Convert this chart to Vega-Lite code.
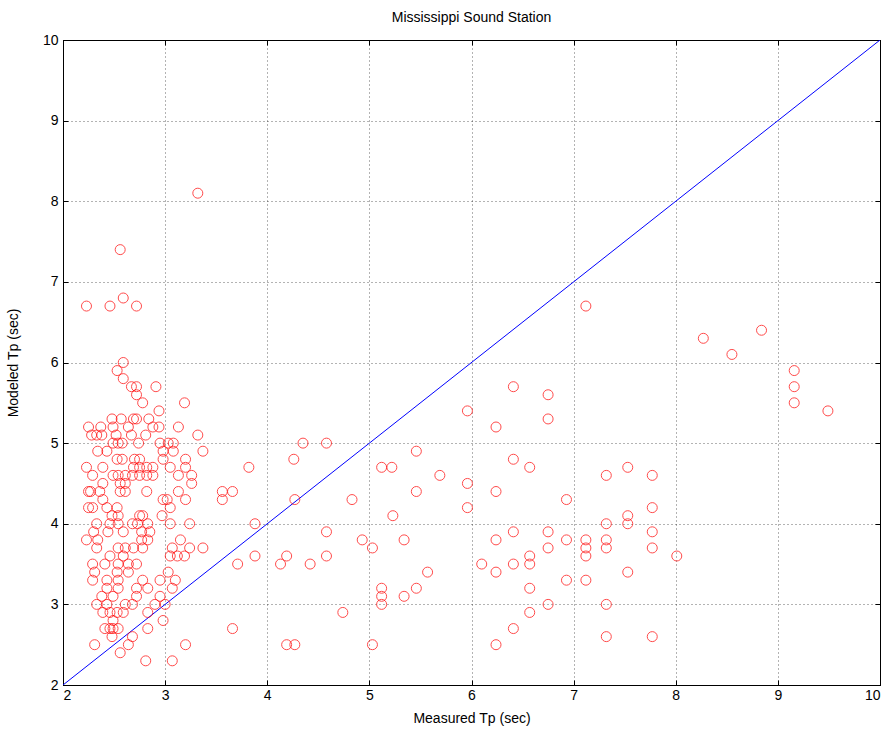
{
  "$schema": "https://vega.github.io/schema/vega-lite/v6.json",
  "width": 817,
  "height": 645,
  "autosize": {"type": "none"},
  "padding": {"left": 63, "top": 40, "right": 16, "bottom": 55},
  "background": "white",
  "title": {"text": "Mississippi Sound Station", "font": "Liberation Sans", "fontSize": 14, "fontWeight": "normal", "color": "black", "offset": 8},
  "config": {
    "view": {"stroke": "black", "strokeWidth": 1},
    "axis": {"domainColor": "black", "tickColor": "black", "labelColor": "black", "titleColor": "black", "labelFont": "Liberation Sans", "titleFont": "Liberation Sans", "labelFontSize": 14, "titleFontSize": 14, "titleFontWeight": "normal", "gridColor": "black", "gridDash": [1, 3], "gridOpacity": 0.6, "tickSize": -5}
  },
  "resolve": {"axis": {"x": "independent", "y": "independent"}},
  "layer": [
    {
      "data": {"values": [{"a": 2, "b": 2}, {"a": 10, "b": 10}]},
      "mark": {"type": "line", "color": "#0000ff", "strokeWidth": 1, "clip": true},
      "encoding": {
        "x": {"field": "a", "type": "quantitative", "scale": {"domain": [2, 10], "nice": false}, "axis": {"orient": "top", "labels": false, "title": null, "grid": false, "values": [2,3,4,5,6,7,8,9,10]}},
        "y": {"field": "b", "type": "quantitative", "scale": {"domain": [2, 10], "nice": false}, "axis": {"orient": "right", "labels": false, "title": null, "grid": false, "values": [2,3,4,5,6,7,8,9,10]}}
      }
    },
    {
      "data": {"values": [
{"m":3.32,"p":8.1},{"m":2.56,"p":7.4},{"m":2.23,"p":6.7},{"m":2.46,"p":6.7},{"m":2.59,"p":6.8},{"m":2.72,"p":6.7},
{"m":2.59,"p":6.0},{"m":2.53,"p":5.9},{"m":2.59,"p":5.8},{"m":2.67,"p":5.7},{"m":2.72,"p":5.7},{"m":2.91,"p":5.7},{"m":2.72,"p":5.6},{"m":2.78,"p":5.5},{"m":3.19,"p":5.5},{"m":2.94,"p":5.4},
{"m":2.48,"p":5.3},{"m":2.57,"p":5.3},{"m":2.69,"p":5.3},{"m":2.72,"p":5.3},{"m":2.84,"p":5.3},
{"m":3.13,"p":5.2},{"m":2.25,"p":5.2},{"m":2.37,"p":5.2},{"m":2.49,"p":5.2},{"m":2.64,"p":5.2},{"m":2.88,"p":5.2},{"m":2.94,"p":5.2},
{"m":2.28,"p":5.1},{"m":2.33,"p":5.1},{"m":2.38,"p":5.1},{"m":2.52,"p":5.1},{"m":2.67,"p":5.1},{"m":2.81,"p":5.1},{"m":3.32,"p":5.1},
{"m":2.49,"p":5.0},{"m":2.58,"p":5.0},{"m":2.74,"p":5.0},{"m":2.95,"p":5.0},{"m":3.03,"p":5.0},{"m":3.08,"p":5.0},{"m":2.54,"p":5.0},
{"m":2.34,"p":4.9},{"m":2.43,"p":4.9},{"m":2.98,"p":4.9},{"m":3.08,"p":4.9},{"m":3.37,"p":4.9},
{"m":2.53,"p":4.8},{"m":2.58,"p":4.8},{"m":2.7,"p":4.8},{"m":2.75,"p":4.8},{"m":2.98,"p":4.8},{"m":3.2,"p":4.8},
{"m":2.23,"p":4.7},{"m":2.39,"p":4.7},{"m":2.69,"p":4.7},{"m":2.75,"p":4.7},{"m":2.82,"p":4.7},{"m":2.88,"p":4.7},{"m":3.2,"p":4.7},{"m":3.05,"p":4.7},
{"m":2.29,"p":4.6},{"m":2.49,"p":4.6},{"m":2.54,"p":4.6},{"m":2.61,"p":4.6},{"m":2.68,"p":4.6},{"m":2.75,"p":4.6},{"m":2.82,"p":4.6},{"m":2.88,"p":4.6},{"m":3.13,"p":4.6},{"m":3.26,"p":4.6},
{"m":2.39,"p":4.5},{"m":2.56,"p":4.5},{"m":2.61,"p":4.5},{"m":3.26,"p":4.5},
{"m":2.25,"p":4.4},{"m":2.27,"p":4.4},{"m":2.36,"p":4.4},{"m":2.56,"p":4.4},{"m":2.61,"p":4.4},{"m":2.82,"p":4.4},{"m":3.13,"p":4.4},
{"m":2.39,"p":4.3},{"m":2.98,"p":4.3},{"m":3.2,"p":4.3},{"m":3.02,"p":4.3},
{"m":2.25,"p":4.2},{"m":2.29,"p":4.2},{"m":2.43,"p":4.2},{"m":2.53,"p":4.2},{"m":3.05,"p":4.2},
{"m":2.48,"p":4.1},{"m":2.54,"p":4.1},{"m":2.75,"p":4.1},{"m":2.97,"p":4.1},{"m":2.78,"p":4.1},
{"m":2.33,"p":4.0},{"m":2.46,"p":4.0},{"m":2.54,"p":4.0},{"m":2.68,"p":4.0},{"m":2.73,"p":4.0},{"m":2.83,"p":4.0},{"m":3.05,"p":4.0},{"m":3.24,"p":4.0},
{"m":2.44,"p":3.9},{"m":2.59,"p":3.9},{"m":2.77,"p":3.9},{"m":2.85,"p":3.9},{"m":2.3,"p":3.9},
{"m":2.23,"p":3.8},{"m":2.34,"p":3.8},{"m":2.77,"p":3.8},{"m":2.83,"p":3.8},{"m":3.15,"p":3.8},
{"m":2.33,"p":3.7},{"m":2.54,"p":3.7},{"m":2.61,"p":3.7},{"m":2.69,"p":3.7},{"m":2.78,"p":3.7},{"m":3.07,"p":3.7},{"m":3.24,"p":3.7},{"m":3.37,"p":3.7},
{"m":2.46,"p":3.6},{"m":2.59,"p":3.6},{"m":3.05,"p":3.6},{"m":3.12,"p":3.6},{"m":3.19,"p":3.6},
{"m":2.29,"p":3.5},{"m":2.41,"p":3.5},{"m":2.54,"p":3.5},{"m":2.64,"p":3.5},{"m":2.72,"p":3.5},
{"m":2.31,"p":3.4},{"m":2.53,"p":3.4},{"m":2.64,"p":3.4},{"m":3.03,"p":3.4},
{"m":2.29,"p":3.3},{"m":2.43,"p":3.3},{"m":2.54,"p":3.3},{"m":2.78,"p":3.3},{"m":2.95,"p":3.3},{"m":3.1,"p":3.3},
{"m":2.43,"p":3.2},{"m":2.54,"p":3.2},{"m":2.72,"p":3.2},{"m":2.83,"p":3.2},{"m":3.07,"p":3.2},
{"m":2.38,"p":3.1},{"m":2.49,"p":3.1},{"m":2.72,"p":3.1},{"m":2.95,"p":3.1},
{"m":2.33,"p":3.0},{"m":2.43,"p":3.0},{"m":2.61,"p":3.0},{"m":2.68,"p":3.0},{"m":2.9,"p":3.0},{"m":3.0,"p":3.0},
{"m":2.39,"p":2.9},{"m":2.46,"p":2.9},{"m":2.53,"p":2.9},{"m":2.59,"p":2.9},{"m":2.83,"p":2.9},
{"m":2.98,"p":2.8},{"m":2.49,"p":2.8},
{"m":2.41,"p":2.7},{"m":2.46,"p":2.7},{"m":2.49,"p":2.7},{"m":2.54,"p":2.7},{"m":2.83,"p":2.7},
{"m":2.48,"p":2.6},{"m":2.68,"p":2.6},
{"m":2.31,"p":2.5},{"m":2.64,"p":2.5},{"m":3.2,"p":2.5},
{"m":2.56,"p":2.4},{"m":2.81,"p":2.3},{"m":3.07,"p":2.3},
{"m":3.56,"p":4.4},{"m":3.56,"p":4.3},{"m":3.66,"p":4.4},{"m":3.66,"p":2.7},{"m":3.71,"p":3.5},{"m":3.82,"p":4.7},{"m":3.88,"p":4.0},{"m":3.88,"p":3.6},
{"m":4.13,"p":3.5},{"m":4.19,"p":3.6},{"m":4.19,"p":2.5},{"m":4.27,"p":2.5},{"m":4.26,"p":4.8},{"m":4.27,"p":4.3},{"m":4.35,"p":5.0},{"m":4.42,"p":3.5},
{"m":4.58,"p":5.0},{"m":4.58,"p":3.9},{"m":4.58,"p":3.6},{"m":4.74,"p":2.9},{"m":4.83,"p":4.3},{"m":4.93,"p":3.8},{"m":5.03,"p":3.7},{"m":5.03,"p":2.5},
{"m":5.12,"p":4.7},{"m":5.12,"p":3.2},{"m":5.12,"p":3.1},{"m":5.12,"p":3.0},{"m":5.22,"p":4.7},{"m":5.23,"p":4.1},{"m":5.34,"p":3.8},{"m":5.34,"p":3.1},
{"m":5.46,"p":4.9},{"m":5.46,"p":4.4},{"m":5.46,"p":3.2},{"m":5.57,"p":3.4},{"m":5.69,"p":4.6},
{"m":5.96,"p":5.4},{"m":5.96,"p":4.5},{"m":5.96,"p":4.2},{"m":6.1,"p":3.5},
{"m":6.24,"p":5.2},{"m":6.24,"p":4.4},{"m":6.24,"p":3.8},{"m":6.24,"p":3.4},{"m":6.24,"p":2.5},
{"m":6.41,"p":5.7},{"m":6.41,"p":4.8},{"m":6.41,"p":3.9},{"m":6.41,"p":3.5},{"m":6.41,"p":2.7},
{"m":6.57,"p":4.7},{"m":6.57,"p":3.6},{"m":6.57,"p":3.5},{"m":6.57,"p":3.2},{"m":6.57,"p":2.9},
{"m":6.75,"p":5.6},{"m":6.75,"p":5.3},{"m":6.75,"p":3.9},{"m":6.75,"p":3.7},{"m":6.75,"p":3.0},
{"m":6.93,"p":4.3},{"m":6.93,"p":3.8},{"m":6.93,"p":3.3},
{"m":7.12,"p":6.7},{"m":7.12,"p":3.8},{"m":7.12,"p":3.7},{"m":7.12,"p":3.6},{"m":7.12,"p":3.3},
{"m":7.32,"p":4.6},{"m":7.32,"p":4.0},{"m":7.32,"p":3.8},{"m":7.32,"p":3.7},{"m":7.32,"p":3.0},{"m":7.32,"p":2.6},
{"m":7.53,"p":4.7},{"m":7.53,"p":4.1},{"m":7.53,"p":4.0},{"m":7.53,"p":3.4},
{"m":7.77,"p":4.6},{"m":7.77,"p":4.2},{"m":7.77,"p":3.9},{"m":7.77,"p":3.7},{"m":7.77,"p":2.6},
{"m":8.01,"p":3.6},{"m":8.27,"p":6.3},{"m":8.55,"p":6.1},{"m":8.84,"p":6.4},
{"m":9.16,"p":5.9},{"m":9.16,"p":5.7},{"m":9.16,"p":5.5},{"m":9.49,"p":5.4}
      ]},
      "mark": {"type": "point", "shape": "circle", "filled": false, "color": "#ff0000", "size": 100, "strokeWidth": 1},
      "encoding": {
        "x": {"field": "m", "type": "quantitative", "scale": {"domain": [2, 10], "nice": false}, "axis": {"title": "Measured Tp (sec)", "values": [2,3,4,5,6,7,8,9,10], "grid": true, "labelPadding": 8, "titlePadding": 9}},
        "y": {"field": "p", "type": "quantitative", "scale": {"domain": [2, 10], "nice": false}, "axis": {"title": "Modeled Tp (sec)", "values": [2,3,4,5,6,7,8,9,10], "grid": true, "labelPadding": 10, "titlePadding": 22}}
      }
    }
  ]
}
